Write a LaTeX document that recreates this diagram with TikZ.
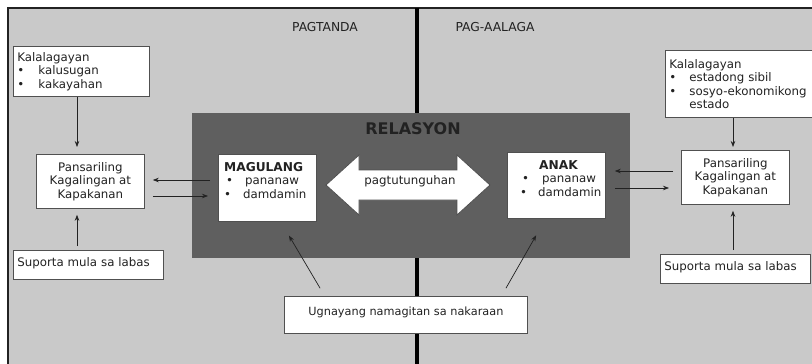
\documentclass[tikz,border=0pt]{standalone}
\usepackage{fontspec}
\setmainfont{DejaVu Sans}
\usetikzlibrary{arrows.meta,calc}
\definecolor{bggrey}{HTML}{C9C9C9}
\definecolor{darkbox}{HTML}{5F5F5F}
\definecolor{edge}{HTML}{505050}
\definecolor{ink}{HTML}{222222}
\begin{document}
\begin{tikzpicture}[x=1pt,y=-1pt,
  every node/.style={font=\fontsize{11.8}{13.5}\selectfont, text=ink},
  wbox/.style={draw=edge, line width=0.8pt, fill=white, inner sep=0pt, anchor=north west},
  arr/.style={draw=ink, line width=0.7pt, -{Stealth[length=6pt,width=4.5pt]}},
  txt/.style={inner sep=0pt, align=left, anchor=north west},
]
\useasboundingbox (0,0) rectangle (812,364);
\fill[white] (0,0) rectangle (812,364);
\fill[bggrey] (8,8) rectangle (812,364);
\draw[line width=1.5pt, ink] (8,364) -- (8,8) -- (812,8);
\draw[line width=4pt, black] (417,8) -- (417,364);

% central relation box
\node[fill=darkbox, anchor=north west, minimum width=438, minimum height=145, inner sep=0pt] (rel) at (192,113) {};
\node[font=\fontsize{16}{18}\bfseries\selectfont] (reltitle) at (413,129) {RELASYON};

% headings
\node[font=\fontsize{12.3}{14}\selectfont] (pagtanda) at (325,27) {PAGTANDA};
\node[font=\fontsize{12.3}{14}\selectfont] (pagaalaga) at (495,27) {PAG-AALAGA};

% left side
\node[wbox, minimum width=136, minimum height=50, align=left, text width=128pt, inner xsep=4pt] (kalL) at (13,46)
  {Kalalagayan\\\makebox[21pt][l]{•}kalusugan\\\makebox[21pt][l]{•}kakayahan};
\node[wbox, minimum width=108, minimum height=54, align=center] (pansL) at (36,154)
  {Pansariling\\Kagalingan at\\Kapakanan};
\node[wbox, minimum width=150, minimum height=29, align=left, text width=142pt, inner xsep=4pt, text depth=6pt] (supL) at (13,250)
  {Suporta mula sa labas};

% right side
\node[wbox, minimum width=146, minimum height=67, align=left, text width=141pt, inner xsep=4pt] (kalR) at (665,50)
  {Kalalagayan\\\makebox[20pt][l]{•}estadong sibil\\\makebox[20pt][l]{•}sosyo-ekonomikong\\\hspace*{20pt}estado};
\node[wbox, minimum width=108, minimum height=54, align=center] (pansR) at (681,150)
  {Pansariling\\Kagalingan at\\Kapakanan};
\node[wbox, minimum width=150, minimum height=29, align=left, text width=142pt, inner xsep=4pt, text depth=6pt] (supR) at (660,254)
  {Suporta mula sa labas};

% inner boxes
\node[wbox, minimum width=98, minimum height=67] (magbox) at (218,154) {};
\node[txt] (magtxt) at (224,162)
  {\textbf{\fontsize{12.2}{13.5}\selectfont MAGULANG}\\\hspace*{2pt}\makebox[19pt][l]{•}pananaw\\\makebox[19pt][l]{•}damdamin};
\node[wbox, minimum width=98, minimum height=66] (anakbox) at (507,152) {};
\node[txt] (anaktxt) at (520,160)
  {\hspace*{19pt}\textbf{\fontsize{12.2}{13.5}\selectfont ANAK}\\\hspace*{2pt}\makebox[20pt][l]{•}pananaw\\\makebox[18pt][l]{•}damdamin};

% double arrow
\draw[fill=white, draw=edge, line width=0.8pt] (326,185) -- (359,155) -- (359,170) -- (457,170) -- (457,155) -- (490,185) -- (457,215) -- (457,200) -- (359,200) -- (359,215) -- cycle;
\node (pagt) at (410,181) {pagtutunguhan};

% bottom box
\node[wbox, minimum width=243, minimum height=37, text depth=8pt, font=\fontsize{11.3}{13.5}\selectfont] (ugn) at (284,296)
  {Ugnayang namagitan sa nakaraan};

% connectors left
\draw[arr, shorten >=7pt] (kalL.south -| 77,0) -- (pansL.north -| 77,0);
\draw[arr, shorten <=4pt, shorten >=6pt] (supL.north -| 77,0) -- (pansL.south -| 77,0);
\draw[arr, shorten <=8pt, shorten >=8pt] (magbox.west |- 0,180) -- (pansL.east |- 0,180);
\draw[arr, shorten <=8pt, shorten >=10pt] (pansL.east |- 0,196) -- (magbox.west |- 0,196);

% connectors right
\draw[arr, shorten >=3pt] (kalR.south -| 733,0) -- (pansR.north -| 733,0);
\draw[arr, shorten <=4pt, shorten >=6pt] (supR.north -| 733,0) -- (pansR.south -| 733,0);
\draw[arr, shorten <=8pt, shorten >=9pt] (pansR.west |- 0,171) -- (anakbox.east |- 0,171);
\draw[arr, shorten <=9pt, shorten >=12pt] (anakbox.east |- 0,188) -- (pansR.west |- 0,188);

% connectors from bottom box
\draw[arr, shorten <=9pt, shorten >=16pt] (ugn.north -| 324.7,0) -- (magbox.south -| 280.8,0);
\draw[arr, shorten <=9pt, shorten >=19pt] (ugn.north -| 501.5,0) -- (anakbox.south -| 545.6,0);
\end{tikzpicture}
\end{document}
